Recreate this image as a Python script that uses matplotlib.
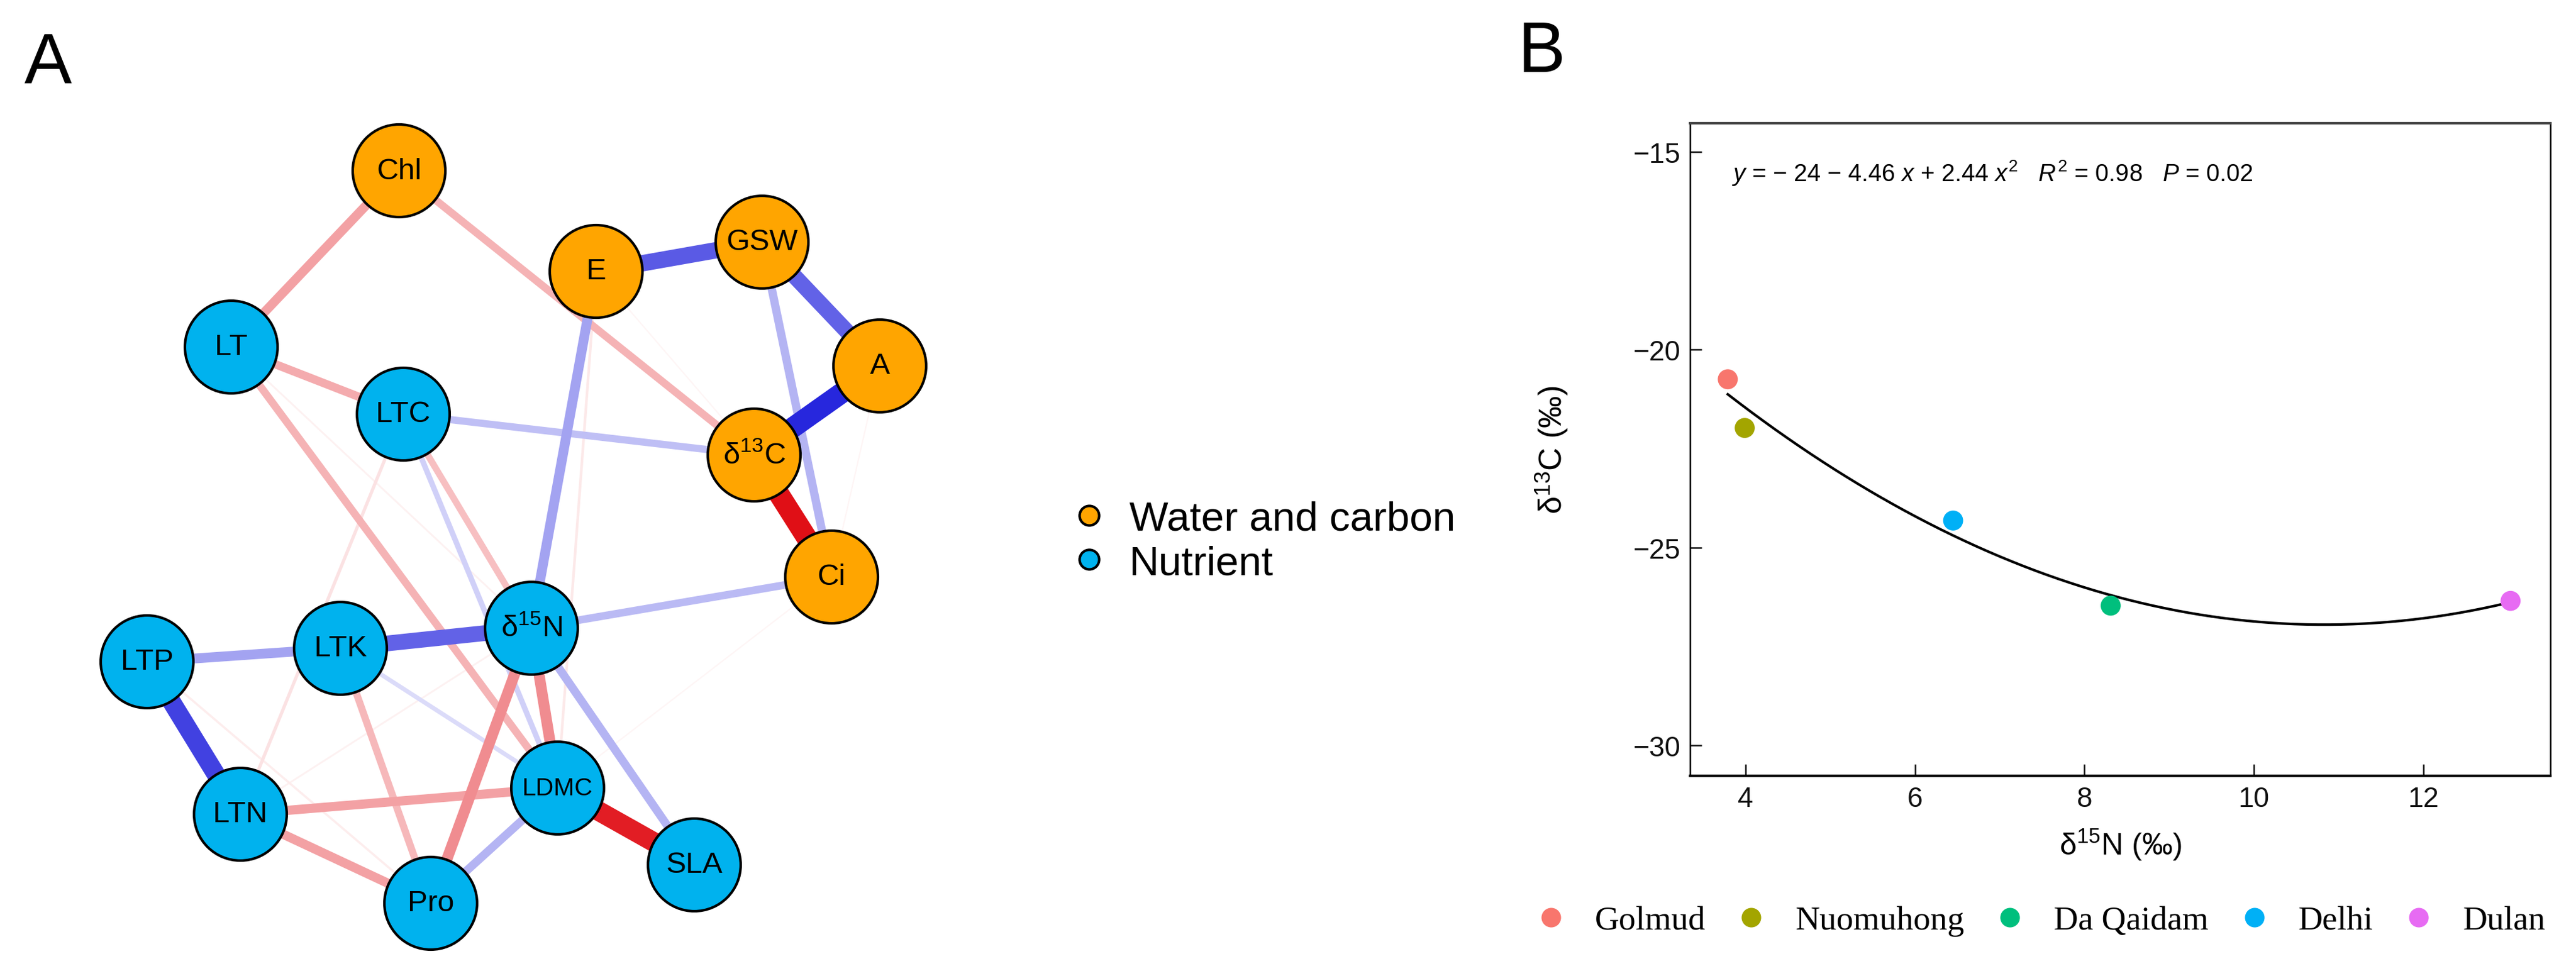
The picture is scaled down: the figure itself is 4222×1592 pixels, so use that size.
import numpy as np
import matplotlib
matplotlib.use('Agg')
import matplotlib.pyplot as plt
from matplotlib.lines import Line2D

plt.rcParams['font.family'] = ['Liberation Sans', 'DejaVu Sans']
plt.rcParams['mathtext.fontset'] = 'custom'
plt.rcParams['mathtext.rm'] = 'Liberation Sans'
plt.rcParams['mathtext.it'] = 'Liberation Sans:italic'

# ---- panel A: trait network ----
# node layout (graph layout coordinates)
node_ids = ['Chl', 'E', 'GSW', 'A', 'd13C', 'Ci', 'LT', 'LTC', 'd15N',
            'LTP', 'LTK', 'LTN', 'LDMC', 'SLA', 'Pro']
node_x = [654, 977, 1249, 1442, 1236, 1363, 379, 661, 871,
          241, 558, 394, 914, 1138, 706]
node_y = [281, 446, 398, 601, 747, 947, 570, 680, 1031,
          1086, 1064, 1336, 1293, 1419, 1482]
node_group = ['wc', 'wc', 'wc', 'wc', 'wc', 'wc', 'nu', 'nu', 'nu',
              'nu', 'nu', 'nu', 'nu', 'nu', 'nu']
node_labels = {'d13C': 'δ$^{13}$C', 'd15N': 'δ$^{15}$N'}

group_names = {'wc': 'Water and carbon', 'nu': 'Nutrient'}
group_colors = {'wc': '#FFA500', 'nu': '#00B2EE'}

# edges: (node, node, correlation)
edges = [
    ('A', 'd13C', -0.95), ('d13C', 'Ci', 0.95), ('LDMC', 'SLA', 0.90),
    ('LTP', 'LTN', -0.85), ('E', 'GSW', -0.75), ('GSW', 'A', -0.72),
    ('LTK', 'd15N', -0.72), ('LTP', 'LTK', -0.45), ('d15N', 'Pro', 0.50),
    ('d15N', 'LDMC', 0.50), ('Chl', 'LT', 0.42), ('LTN', 'LDMC', 0.42),
    ('LTN', 'Pro', 0.42), ('LT', 'LTC', 0.38), ('Chl', 'd13C', 0.35),
    ('LT', 'LDMC', 0.35), ('LTK', 'Pro', 0.33), ('LTC', 'd15N', 0.30),
    ('E', 'd15N', -0.45), ('GSW', 'Ci', -0.38), ('LTC', 'd13C', -0.33),
    ('d15N', 'Ci', -0.35), ('d15N', 'SLA', -0.38), ('Pro', 'LDMC', -0.38),
    ('LTC', 'LDMC', -0.25), ('LTK', 'LDMC', -0.20), ('LTC', 'LTN', 0.15),
    ('E', 'LDMC', 0.12), ('LTP', 'Pro', 0.10), ('LTN', 'd15N', 0.08),
    ('LT', 'd15N', 0.08), ('A', 'Ci', 0.06), ('Ci', 'LDMC', 0.06),
    ('E', 'd13C', 0.06),
]

# ---- panel B: site means ----
sites = ['Golmud', 'Nuomuhong', 'Da Qaidam', 'Delhi', 'Dulan']
d15n = [3.79, 3.99, 8.31, 6.45, 13.03]
d13c = [-20.75, -21.98, -26.47, -24.32, -26.35]
site_colors = ['#F8766D', '#A3A500', '#00BF7D', '#00B0F6', '#E76BF3']
eq_text = '$y$ = − 24 − 4.46 $x$ + 2.44 $x^2$   $R^2$ = 0.98   $P$ = 0.02'

W, H = 4222, 1593
fig = plt.figure(figsize=(W / 300, H / 300), dpi=300)

ax = fig.add_axes([0, 0, 1700 / W, 1])
ax.set_xlim(0, 1700)
ax.set_ylim(H, 0)
ax.axis('off')

pos = {n: (x, y) for n, x, y in zip(node_ids, node_x, node_y)}
red = np.array([0.87, 0.0, 0.03])
blue = np.array([0.1, 0.1, 0.86])
for a, b, r in sorted(edges, key=lambda e: abs(e[2])):
    base = red if r > 0 else blue
    col = 1 - abs(r) ** 1.15 * (1 - base)
    ax.plot([pos[a][0], pos[b][0]], [pos[a][1], pos[b][1]],
            color=col, lw=8.6 * abs(r), solid_capstyle='butt', zorder=1)

ax.scatter(node_x, node_y, s=1330, c=[group_colors[g] for g in node_group],
           edgecolors='black', linewidths=1.0, zorder=2)
for n, x, y in zip(node_ids, node_x, node_y):
    fs = 9.8 if n == 'LDMC' else 11.8
    ax.text(x, y, node_labels.get(n, n), ha='center', va='center',
            fontsize=fs, zorder=3)

leg_a = [Line2D([], [], ls='', marker='o', markersize=7.7,
                markerfacecolor=group_colors[g], markeredgecolor='black',
                markeredgewidth=1.0) for g in ['wc', 'nu']]
fig.legend(leg_a, [group_names['wc'], group_names['nu']],
           loc='center left', bbox_to_anchor=(1753 / W, 1 - 889 / H),
           frameon=False, fontsize=16.2, handlelength=0.95,
           handletextpad=0.5, labelspacing=0.15, borderpad=0,
           borderaxespad=0)

# ---- panel B ----
axb = fig.add_axes([2770 / W, 1 - 1273 / H, 1410 / W, 1070 / H])
coef = np.polyfit(d15n, d13c, 2)
xs = np.linspace(min(d15n), max(d15n), 200)
axb.plot(xs, np.polyval(coef, xs), color='black', lw=1.0, zorder=2)
axb.scatter(d15n, d13c, c=site_colors, s=62, edgecolors='none', zorder=3)
axb.set_xlim(3.345, 13.5)
axb.set_ylim(-30.77, -14.28)
axb.set_xticks([4, 6, 8, 10, 12])
axb.set_yticks([-30, -25, -20, -15])
axb.tick_params(direction='in', length=4.5, width=0.6, labelsize=11,
                pad=3.8, colors='#111111')
for s in ['top', 'bottom']:
    axb.spines[s].set_linewidth(1.0)
for s in ['left', 'right']:
    axb.spines[s].set_linewidth(0.6)
axb.spines['top'].set_color('#444444')
axb.set_xlabel('δ$^{15}$N (‰)', fontsize=12)
axb.set_ylabel('δ$^{13}$C (‰)', fontsize=12.6)
axb.xaxis.set_label_coords(0.5, -0.0785)
axb.yaxis.set_label_coords(-0.14, 0.5)
axb.text(0.048, 0.925, eq_text, transform=axb.transAxes, fontsize=9.5,
         ha='left', va='center')

leg_b = [Line2D([], [], ls='', marker='o', markersize=7.7,
                markerfacecolor=c, markeredgecolor='none') for c in site_colors]
fig.legend(leg_b, sites, loc='center left',
           bbox_to_anchor=(2514 / W, 1 - 1511 / H), ncol=5, frameon=False,
           prop={'family': 'Liberation Serif', 'size': 13.3},
           handlelength=1.0, handletextpad=0.8, columnspacing=0.85,
           borderpad=0, borderaxespad=0)

fig.text(40 / W, 1 - 137 / H, 'A', fontsize=28, ha='left', va='baseline')
fig.text(2487 / W, 1 - 118 / H, 'B', fontsize=28, ha='left', va='baseline')

fig.savefig('out.png', dpi=300)
